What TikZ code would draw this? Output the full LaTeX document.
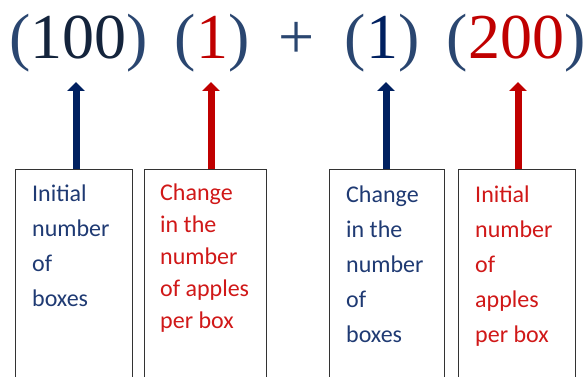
\documentclass[tikz,border=0pt]{standalone}
\usepackage{fontspec}
\newfontfamily\carlito{Carlito}
\newfontfamily\tnr{Liberation Serif}
\usetikzlibrary{arrows.meta}
\definecolor{navy}{HTML}{002060}
\definecolor{parblue}{HTML}{2A4670}
\definecolor{darknum}{HTML}{14243C}
\definecolor{dred}{HTML}{C00000}
\definecolor{tblue}{HTML}{1F3A73}
\definecolor{tred}{HTML}{D01818}
\definecolor{frame}{HTML}{333333}
\tikzset{
  eq/.style={anchor=base, inner sep=0pt, font=\tnr\fontsize{64}{64}\selectfont},
  boxr/.style={draw=frame, line width=1.3pt, anchor=north west, inner sep=0pt},
  lbl/.style={anchor=base west, inner sep=0pt},
  uparrow/.style={line width=7pt, -{Triangle[width=17pt,length=9pt]}},
}
\newcommand{\boxtext}[3]{\parbox[t]{4cm}{\raggedright\carlito\fontsize{24}{#1}\selectfont\leavevmode\color{#2}#3}}
\begin{document}
\begin{tikzpicture}[x=1pt,y=-1pt]
\useasboundingbox (0,0) rectangle (586,377);
\clip (0,0) rectangle (586,377);
% equation
\node[eq] (e1) at (79,59) {{\color{parblue}(}{\color{darknum}100}{\color{parblue})}};
\node[eq] (e2) at (212,59) {{\color{parblue}(}{\color{dred}1}{\color{parblue})}};
\node[eq] (plus) at (297,59) {{\color{parblue}+}};
\node[eq] (e3) at (382,59) {{\color{parblue}(}{\color{navy}1}{\color{parblue})}};
\node[eq] (e4) at (516,59) {{\color{parblue}(}{\color{dred}200}{\color{parblue})}};
% boxes
\node[boxr, minimum width=117pt, minimum height=230pt] (b1) at (15,169) {};
\node[boxr, minimum width=122pt, minimum height=230pt] (b2) at (144,169) {};
\node[boxr, minimum width=115pt, minimum height=230pt] (b3) at (329,169) {};
\node[boxr, minimum width=117pt, minimum height=230pt] (b4) at (458,169) {};
% texts
\node[lbl] (t1) at (32,201) {\boxtext{35}{tblue}{Initial\\number\\of\\boxes}};
\node[lbl] (t2) at (160,200) {\boxtext{32}{tred}{Change\\in the\\number\\of apples\\per box}};
\node[lbl] (t3) at (346,202) {\boxtext{35}{tblue}{Change\\in the\\number\\of\\boxes}};
\node[lbl] (t4) at (475,202) {\boxtext{35}{tred}{Initial\\number\\of\\apples\\per box}};
% arrows
\coordinate (a1) at (76,82);
\coordinate (a2) at (211,82);
\coordinate (a3) at (386,82);
\coordinate (a4) at (518,82);
\draw[uparrow, navy] (b1.north -| a1) -- (a1);
\draw[uparrow, dred] (b2.north -| a2) -- (a2);
\draw[uparrow, navy] (b3.north -| a3) -- (a3);
\draw[uparrow, dred] (b4.north -| a4) -- (a4);
\end{tikzpicture}
\end{document}
